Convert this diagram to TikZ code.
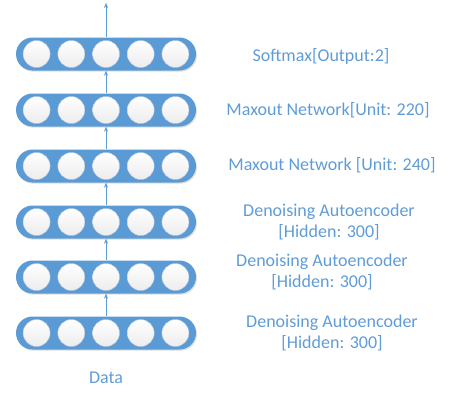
\documentclass[tikz,border=0pt]{standalone}
\usepackage{fontspec}
\setmainfont{Carlito}
\usepackage{tikz}
\usetikzlibrary{arrows.meta, shadows, positioning}
\definecolor{barblue}{HTML}{5B9BD5}
\definecolor{txtblue}{HTML}{5F9CD6}
\definecolor{cellrim}{HTML}{B8C6D8}

\tikzset{
    layerbar/.style={draw=none, fill=barblue, rectangle, rounded corners=16.5pt,
        minimum width=180pt, minimum height=33pt, inner sep=0pt,
        drop shadow={opacity=0.25, shadow xshift=1pt, shadow yshift=-1.2pt}},
    unit/.style={circle, draw=cellrim, line width=0.4pt, minimum size=27pt, inner sep=0pt,
        top color=white, bottom color=blue!5!gray!14},
    flow/.style={-{Stealth[length=5pt, width=4pt]}, draw=barblue, line width=0.7pt},
    lab/.style={text=txtblue, font=\fontsize{18}{21}\selectfont, align=center, inner sep=0pt}
}

\begin{document}
\begin{tikzpicture}[x=1pt, y=-1pt]

            % Khung hình
            \useasboundingbox (0,0) rectangle (452,392);

            % Các lớp mạng
            \node[layerbar] (bar1) at (106,54) {};
            \node[layerbar] (bar2) at (106,110) {};
            \node[layerbar] (bar3) at (106,166) {};
            \node[layerbar] (bar4) at (106,222) {};
            \node[layerbar] (bar5) at (106,277) {};
            \node[layerbar] (bar6) at (106,333) {};

            % Các nơ-ron trong mỗi lớp
            \foreach \b in {1,...,6}
                \foreach \k in {1,...,5}
                    \node[unit] (u\b\k) at ([xshift={(\k-3)*34.7pt}]bar\b.center) {};

            % Mũi tên giữa các lớp
            \coordinate (out) at (106,3);
            \draw[flow] (bar1.north) -- (out);
            \draw[flow] (bar2.north) -- (bar1.south);
            \draw[flow] (bar3.north) -- (bar2.south);
            \draw[flow] (bar4.north) -- (bar3.south);
            \draw[flow] (bar5.north) -- (bar4.south);
            \draw[flow] (bar6.north) -- (bar5.south);

            % Nhãn các lớp
            \node[lab] (lab1) at (321,56) {Softmax[Output:2]};
            \node[lab] (lab2) at (328,110) {Maxout Network[Unit: 220]};
            \node[lab] (lab3) at (332,165) {Maxout Network [Unit: 240]};
            \node[lab] (lab4) at (329,222) {Denoising Autoencoder\\{[Hidden: 300]}};
            \node[lab] (lab5) at (322,272) {Denoising Autoencoder\\{[Hidden: 300]}};
            \node[lab] (lab6) at (332,333) {Denoising Autoencoder\\{[Hidden: 300]}};

            % Dữ liệu vào
            \node[lab] (data) at (106,378) {Data};

\end{tikzpicture}
\end{document}
